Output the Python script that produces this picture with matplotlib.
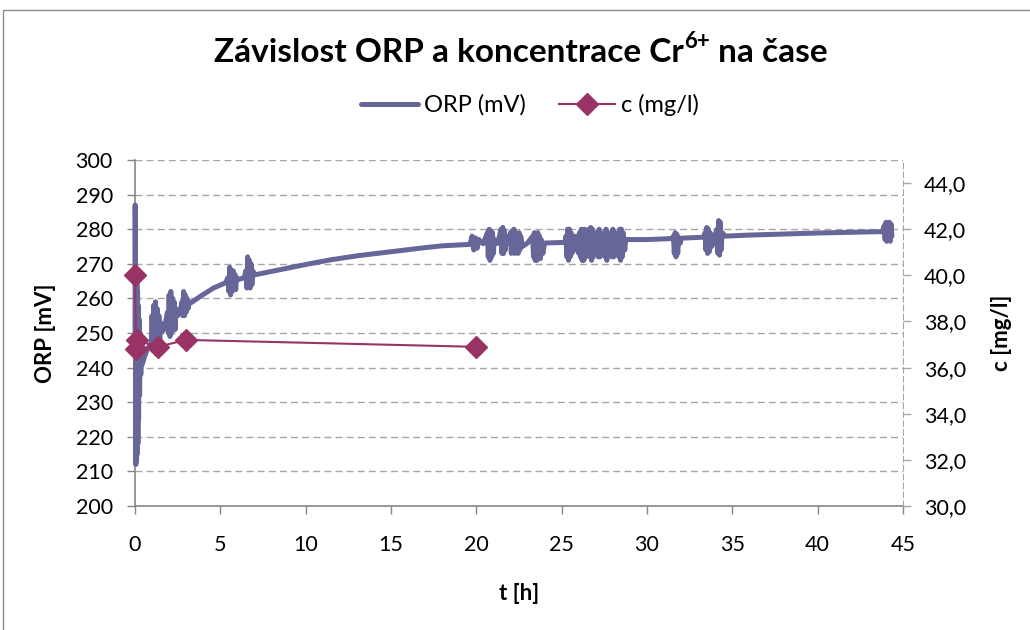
import matplotlib
matplotlib.use("Agg")
import matplotlib.pyplot as plt
from matplotlib.patches import Rectangle
from matplotlib.ticker import FixedLocator, FuncFormatter

plt.rcParams["font.family"] = ["Lato", "DejaVu Sans"]

# ---- data -------------------------------------------------------------
# ORP logger record: time [h], ORP [mV]
orp_t = [
    0.00, 0.01, 0.03, 0.05, 0.07, 0.09, 0.11, 0.13, 0.15, 0.17, 0.19, 0.21,
    0.24, 0.27, 0.30, 0.34, 0.38, 0.43, 0.55, 0.70, 0.85,
    0.95, 1.00, 1.05, 1.10, 1.15, 1.20, 1.25, 1.30, 1.35, 1.40, 1.45, 1.50,
    1.60, 1.75,
    1.90, 1.95, 2.00, 2.05, 2.10, 2.15, 2.20, 2.25, 2.30, 2.35, 2.40,
    2.50, 2.65,
    2.75, 2.80, 2.85, 2.90, 2.95, 3.00, 3.05, 3.10, 3.20,
    3.30, 3.80, 4.60, 5.30,
    5.45, 5.50, 5.55, 5.60, 5.65, 5.70, 5.75, 5.80, 5.85, 5.90, 5.95,
    6.10, 6.40,
    6.50, 6.55, 6.60, 6.65, 6.70, 6.75, 6.80, 6.85, 6.90,
    7.00, 7.70, 9.00, 10.00, 11.40, 13.00, 15.00, 16.70, 18.00, 19.60,
    19.65, 19.75, 19.85, 19.95, 20.05, 20.15,
    20.40,
    20.65, 20.70, 20.75, 20.80, 20.85, 20.90, 20.95, 21.00, 21.05,
    21.25,
    21.45, 21.50, 21.55, 21.60, 21.65, 21.70, 21.75,
    21.90,
    22.00, 22.05, 22.10, 22.15, 22.20, 22.25, 22.30, 22.35, 22.40, 22.45,
    22.50, 22.55, 22.60, 22.70,
    23.00,
    23.30, 23.35, 23.40, 23.45, 23.50, 23.55, 23.60, 23.65, 23.70, 23.75,
    23.80, 23.90, 24.00,
    24.60, 25.20,
    25.25, 25.30, 25.35, 25.40, 25.45, 25.50, 25.55, 25.60, 25.70, 25.80,
    25.90, 26.00, 26.05, 26.10, 26.15, 26.20, 26.25, 26.30, 26.35, 26.40,
    26.50, 26.55, 26.60, 26.65, 26.70, 26.75, 26.80, 26.85, 26.90, 27.00,
    27.10, 27.15, 27.20, 27.25, 27.30, 27.40, 27.50, 27.55, 27.60, 27.65,
    27.70, 27.80, 27.90, 27.95, 28.00, 28.05, 28.10, 28.20, 28.30, 28.35,
    28.40, 28.45, 28.50, 28.55, 28.60, 28.70, 28.75,
    30.00, 31.45,
    31.55, 31.60, 31.65, 31.70, 31.75, 31.80, 31.85, 31.95,
    32.00, 33.35,
    33.40, 33.45, 33.50, 33.55, 33.60, 33.65, 33.70, 33.80,
    33.95,
    34.10, 34.15, 34.20, 34.25, 34.30, 34.35, 34.40,
    34.60, 36.00, 38.00, 40.00, 42.00, 43.80,
    43.90, 43.95, 44.00, 44.05, 44.10, 44.15, 44.20, 44.25, 44.30, 44.35,
]
orp_mv = [
    245, 287, 262, 212, 268, 213, 266, 215, 262, 218, 258, 225,
    254, 232, 250, 238, 246, 241, 243, 245, 246.5,
    246, 255, 245, 258, 247, 259, 244, 257, 246, 255, 248, 253,
    250.5, 252,
    256, 250, 261, 249, 262, 250, 260, 251, 259, 251, 257,
    255, 256.5,
    259, 255, 262, 255, 261, 256, 260, 257, 259,
    258.8, 260.5, 263, 264.5,
    266, 262, 269, 261, 268, 262, 268, 263, 267, 262.5, 266,
    265.5, 266,
    268, 263, 272, 264, 271, 263, 270, 264, 268,
    266.8, 267.5, 268.8, 269.8, 271.1, 272.3, 273.5, 274.5, 275.2, 275.6,
    276, 278, 274, 277.5, 274.5, 277,
    275.8,
    279, 272, 280, 271, 279.5, 272, 279, 273, 277,
    275.9,
    280, 273, 280.5, 273, 279.5, 274, 278,
    276,
    279, 273, 279.5, 274, 280, 273, 279, 274, 278, 273,
    279, 274, 278, 275,
    276,
    278, 272, 279, 271, 278.5, 271, 279, 272, 278, 271.5,
    277, 273, 276,
    276.1, 276.2,
    278, 272, 280, 271, 280, 272, 279, 273, 278, 274,
    278, 273, 279, 272, 280, 271, 279.5, 271, 280, 272,
    279, 273, 280, 272, 280.5, 271, 280, 272, 279, 273,
    279, 272, 280, 272, 279, 273, 279, 272, 280, 271,
    279, 273, 279, 272, 280, 272, 279, 274, 279, 272,
    280, 271, 280, 272, 279, 274, 277,
    277.0, 277.3,
    278, 273, 279, 272, 278.5, 273, 277.5, 276,
    277.4, 277.7,
    279, 274, 280.5, 273, 280, 273.5, 279, 275,
    277.8,
    280, 273, 282.5, 272.5, 282, 274, 279,
    278, 278.3, 278.6, 278.9, 279.1, 279.3,
    281, 277, 282, 276.5, 281.5, 277, 282, 276.5, 281.5, 278,
]

# Cr(VI) concentration samples: time [h], c [mg/l]
c_t = [0.0, 0.05, 0.10, 1.33, 3.0, 20.0]
c_val = [40.0, 36.8, 37.2, 36.9, 37.2, 36.9]

x_ticks = [0, 5, 10, 15, 20, 25, 30, 35, 40, 45]
orp_ticks = [200, 210, 220, 230, 240, 250, 260, 270, 280, 290, 300]
c_ticks = [30, 32, 34, 36, 38, 40, 42, 44]

ORP_COLOR = "#666699"
C_COLOR = "#993366"
AXIS_GRAY = "#868686"
GRID_GRAY = "#a6a6a6"

# ---- figure -----------------------------------------------------------
fig = plt.figure(figsize=(10.3, 6.3), dpi=100)
fig.patch.set_facecolor("white")

# chart-area border
fig.patches.append(Rectangle((3 / 1030, -0.05), 1.2, 1 - 10 / 630 + 0.05,
                             transform=fig.transFigure, fill=False,
                             edgecolor="#8c8c8c", linewidth=1.0))

ax = fig.add_axes([135 / 1030, 1 - 506 / 630, (903 - 135) / 1030, (506 - 160) / 630])
ax2 = ax.twinx()

ax.set_xlim(0, 45)
ax.set_ylim(200, 300)
ax2.set_ylim(30, 45)

ax.yaxis.set_major_locator(FixedLocator(orp_ticks))
ax.xaxis.set_major_locator(FixedLocator(x_ticks))
ax2.yaxis.set_major_locator(FixedLocator(c_ticks))
ax2.yaxis.set_major_formatter(FuncFormatter(lambda v, p: f"{v:.1f}".replace(".", ",")))

ax.grid(axis="y", color=GRID_GRAY, linestyle=(0, (5, 3)), linewidth=1.0)
ax.set_axisbelow(True)

for a in (ax, ax2):
    a.spines["top"].set_visible(False)
ax.spines["right"].set_visible(False)
ax2.spines["left"].set_visible(False)
ax2.spines["bottom"].set_visible(False)
ax.spines["left"].set_color(AXIS_GRAY)
ax.spines["bottom"].set_color(AXIS_GRAY)
ax2.spines["right"].set_color(GRID_GRAY)
ax2.spines["right"].set_linestyle((0, (5, 3)))
for s in ("left", "bottom"):
    ax.spines[s].set_linewidth(1.2)

ax.tick_params(axis="both", direction="out", length=6, width=1.0,
               color=AXIS_GRAY, labelsize=15.5, labelcolor="black")
ax.tick_params(axis="x", pad=15)
ax.tick_params(axis="y", pad=10)
ax2.tick_params(axis="y", direction="out", length=6, width=1.0,
                color=GRID_GRAY, labelsize=15.5, pad=9)

orp_line, = ax.plot(orp_t, orp_mv, color=ORP_COLOR, linewidth=3.6,
                    solid_joinstyle="round", solid_capstyle="round",
                    label="ORP (mV)", zorder=3, clip_on=False)
c_line, = ax2.plot(c_t, c_val, color=C_COLOR, linewidth=1.5, marker="D",
                   markersize=11, markerfacecolor=C_COLOR,
                   markeredgecolor=C_COLOR, label="c (mg/l)", zorder=4,
                   clip_on=False)

ax.set_xlabel("t [h]", fontsize=16, fontweight="bold", labelpad=20)
ax.set_ylabel("ORP [mV]", fontsize=16, fontweight="bold", labelpad=14)
ax2.set_ylabel("c [mg/l]", fontsize=16, fontweight="bold", labelpad=18)

# title with a raised "6+" superscript, assembled from three text pieces
renderer = fig.canvas.get_renderer()
title_y = 1 - 62 / 630
main_fs, sup_fs = 24, 16
parts = [("Závislost ORP a koncentrace Cr", main_fs, 0),
         ("6+", sup_fs, 14),
         (" na čase", main_fs, 0)]
texts = []
for s, fs, rise in parts:
    t = fig.text(0, title_y + rise / 630, s, fontsize=fs, fontweight="bold",
                 ha="left", va="baseline")
    texts.append(t)
widths = [t.get_window_extent(renderer).width for t in texts]
x = 521 - sum(widths) / 2
for t, w in zip(texts, widths):
    t.set_x(x / 1030)
    x += w

fig.legend(handles=[orp_line, c_line], loc="center",
           bbox_to_anchor=(530 / 1030, 1 - 105 / 630), ncol=2, frameon=False,
           fontsize=17, handlelength=2.4, handletextpad=0.25, columnspacing=1.4)

fig.savefig("out.png", dpi=100, facecolor="white")
